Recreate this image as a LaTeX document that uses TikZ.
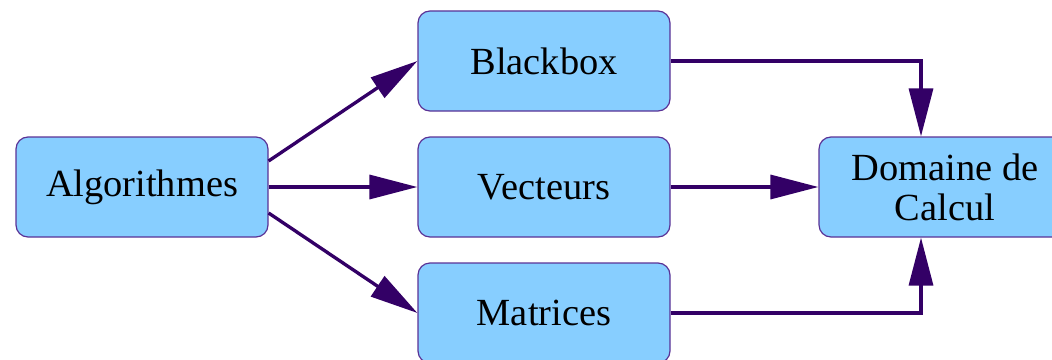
\documentclass[tikz,border=0pt]{standalone}
\usepackage{fontspec}
\setmainfont{Liberation Serif}
\usetikzlibrary{arrows.meta}

\definecolor{boxfill}{RGB}{135,206,255}
\definecolor{boxline}{RGB}{90,50,150}
\definecolor{arrowcol}{RGB}{51,0,102}

\tikzset{every picture/.style={line width=0.75pt}}

\begin{document}
\begin{tikzpicture}[x=0.75pt,y=0.75pt,yscale=-1,xscale=1,
  blockbox/.style={draw=boxline, fill=boxfill, rounded corners=9pt, line width=0.9pt,
    minimum width=189pt, minimum height=75pt, align=center, inner sep=0pt,
    font=\fontsize{28.8}{30}\selectfont},
  flow/.style={draw=arrowcol, line width=2.5pt, -{Triangle[length=36pt,width=18pt]}}]
\useasboundingbox (0,0) rectangle (1052,360);

%Boxes
\node[blockbox] (algo) at (142,187) {Algorithmes};
\node[blockbox] (blackbox) at (544,61) {Blackbox};
\node[blockbox] (vect) at (544,187) {Vecteurs};
\node[blockbox] (matr) at (544,313) {Matrices};
\node[blockbox] (domaine) at (945,187) {Domaine de\\Calcul};

%Arrows
\draw[flow] ([yshift=-19.5pt]algo.east) -- (blackbox.west);
\draw[flow] (algo.east) -- (vect.west);
\draw[flow] ([yshift=19.5pt]algo.east) -- (matr.west);
\draw[flow] (blackbox.east) -| ([xshift=-18pt]domaine.north);
\draw[flow] (vect.east) -- (domaine.west);
\draw[flow] (matr.east) -| ([xshift=-18pt]domaine.south);

\end{tikzpicture}
\end{document}
